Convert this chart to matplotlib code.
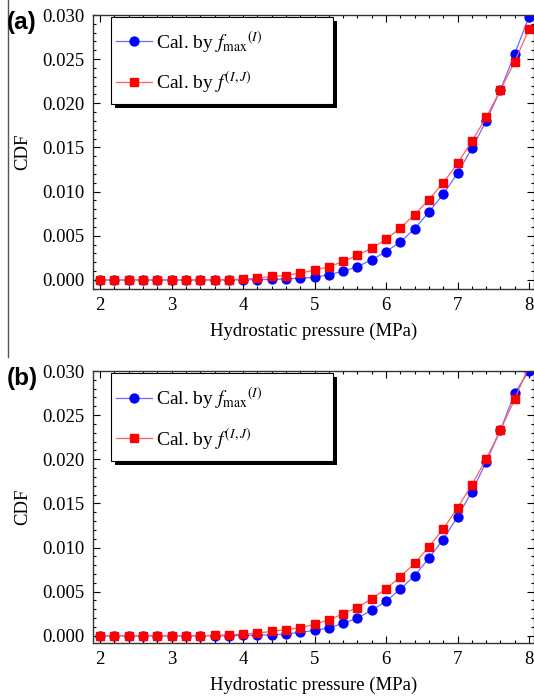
import matplotlib
matplotlib.use('Agg')
import matplotlib.pyplot as plt
from matplotlib.ticker import MultipleLocator
from matplotlib.lines import Line2D
from matplotlib.patches import Rectangle

plt.rcParams['font.family'] = 'Liberation Serif'
plt.rcParams['mathtext.fontset'] = 'stix'

# pressure grid (MPa)
pressure = [2.0, 2.2, 2.4, 2.6, 2.8, 3.0, 3.2, 3.4, 3.6, 3.8,
            4.0, 4.2, 4.4, 4.6, 4.8, 5.0, 5.2, 5.4, 5.6, 5.8,
            6.0, 6.2, 6.4, 6.6, 6.8, 7.0, 7.2, 7.4, 7.6, 7.8, 8.0]

# panel (a)
a_fmax = [0, 0, 0, 0, 0, 0, 0, 0, 0, 0,
          0.00002, 0.00004, 0.00007, 0.00012, 0.0002, 0.0003, 0.0006, 0.0010, 0.0015, 0.0023,
          0.0032, 0.0043, 0.0058, 0.0077, 0.0097, 0.0121, 0.0149, 0.0180, 0.0215, 0.0256, 0.0298]
a_fij = [0, 0, 0, 0, 0, 0, 0, 0, 0.00002, 0.00005,
         0.0001, 0.0002, 0.0004, 0.0005, 0.0008, 0.0011, 0.0015, 0.0021, 0.0028, 0.0036,
         0.0046, 0.0059, 0.0074, 0.0091, 0.0110, 0.0132, 0.0157, 0.0184, 0.0215, 0.0247, 0.0284]

# panel (b)
b_fmax = [0, 0, 0, 0, 0, 0, 0, 0, 0, 0,
          0.00004, 0.00007, 0.0001, 0.0002, 0.0004, 0.0006, 0.0009, 0.0014, 0.0020, 0.0029,
          0.0039, 0.0053, 0.0068, 0.0088, 0.0109, 0.0135, 0.0163, 0.0197, 0.0233, 0.0275, 0.0300]
b_fij = [0, 0, 0, 0, 0, 0, 0, 0, 0.00004, 0.0001,
         0.0002, 0.0003, 0.0005, 0.0007, 0.0009, 0.0013, 0.0018, 0.0025, 0.0032, 0.0042,
         0.0053, 0.0067, 0.0082, 0.0101, 0.0121, 0.0145, 0.0171, 0.0200, 0.0233, 0.0268, 0.0306]

yticks = [0.000, 0.005, 0.010, 0.015, 0.020, 0.025, 0.030]
xticks = [2, 3, 4, 5, 6, 7, 8]

label_fmax = r'Cal. by ${f_{\mathrm{max}}}^{(I)}$'
label_fij = r'Cal. by $f^{(I,J)}$'

fig = plt.figure(figsize=(5.34, 7.0), dpi=100)
W, H = 534, 700

# axes boxes in pixels: left, top, right, bottom
boxes = [(93, 15, 534, 289), (93, 371, 534, 643)]
ylims = [(-0.00102, 0.030), (-0.00082, 0.030)]
# legend frame boxes in pixels: left, top, right, bottom
legboxes = [(111, 17, 333, 104), (111, 373, 333, 461)]
panels = [(a_fmax, a_fij, '(a)'), (b_fmax, b_fij, '(b)')]


def fx(px):
    return px / W


def fy(py):
    return 1 - py / H


for (l, t, r, b), ylim, (ll, lt, lr, lb), (fmax, fij, tag) in zip(boxes, ylims, legboxes, panels):
    ax = fig.add_axes([fx(l), fy(b), (r - l) / W, (b - t) / H])
    ax.plot(pressure, fmax, '-', color='#6b6bff', lw=0.9, marker='o', ms=6.4,
            mfc='blue', mec='blue', label=label_fmax)
    ax.plot(pressure, fij, '-', color='#ff6060', lw=0.9, marker='s', ms=5.8,
            mfc='red', mec='red', label=label_fij)
    ax.set_xlim(1.90, 8.07)
    ax.set_ylim(*ylim)
    ax.set_xticks(xticks)
    ax.set_yticks(yticks)
    ax.set_yticklabels(['%.3f' % v for v in yticks])
    ax.xaxis.set_minor_locator(MultipleLocator(0.2))
    ax.yaxis.set_minor_locator(MultipleLocator(0.001))
    ax.tick_params(which='both', direction='in', top=True, right=True, labelsize=13.5, width=0.8)
    ax.tick_params(which='major', length=5, pad=6)
    ax.tick_params(which='minor', length=2.5)
    for s in ax.spines.values():
        s.set_linewidth(1.0)
        s.set_color('#333333')
    ax.set_xlabel('Hydrostatic pressure (MPa)', fontsize=13.5, labelpad=6)
    ax.set_ylabel('CDF', fontsize=13.5, labelpad=8)

    # legend frame with a solid drop shadow
    ax.add_patch(Rectangle((fx(ll + 4), fy(lb + 4)), (lr - ll) / W, (lb - lt) / H,
                           transform=fig.transFigure, facecolor='black', edgecolor='none',
                           zorder=4, clip_on=False))
    ax.add_patch(Rectangle((fx(ll), fy(lb)), (lr - ll) / W, (lb - lt) / H,
                           transform=fig.transFigure, facecolor='white', edgecolor='black',
                           lw=0.8, zorder=4.5, clip_on=False))
    leg = ax.legend(loc='center left', bbox_to_anchor=(fx(ll + 5), fy((lt + lb) / 2 + 1.5)),
                    bbox_transform=fig.transFigure, fontsize=14, frameon=False,
                    handlelength=1.85, handletextpad=0.2, labelspacing=0.75, borderpad=0,
                    borderaxespad=0)
    leg.set_zorder(6)
    fig.text(0.012, 1 - (t + 7) / H, tag, fontsize=17.5, fontweight='bold',
             family='Liberation Sans', va='center', ha='left')

# stray left border line in the source figure
fig.add_artist(Line2D([8 / W, 8 / W], [1.0, 1 - 357 / H], color='#555555', lw=1.0))

fig.savefig('out.png', dpi=100)
